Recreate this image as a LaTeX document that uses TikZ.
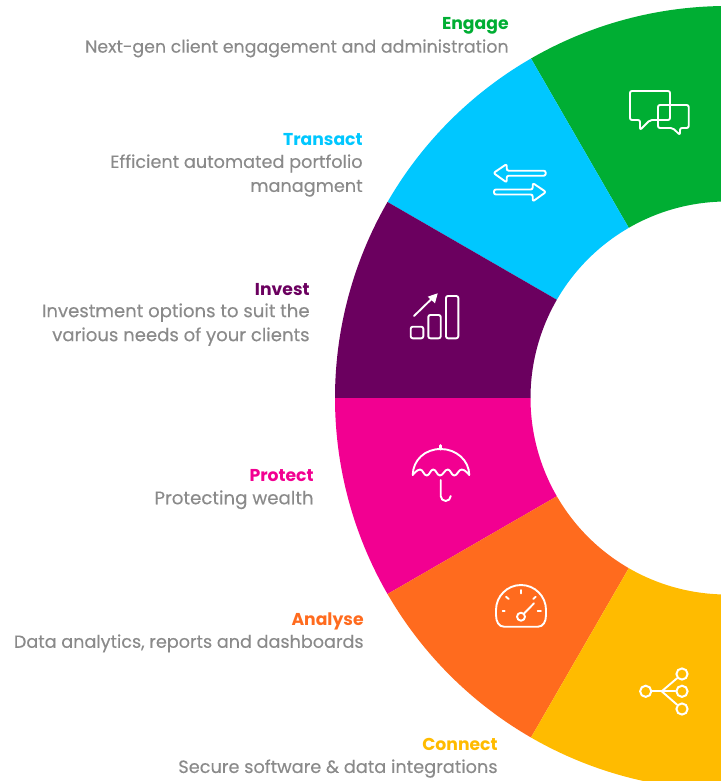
\documentclass[tikz,border=0pt]{standalone}
\usepackage{fontspec}
\setmainfont{Poppins}
\newfontfamily\bodyfont{Poppins}[FakeBold=0.25]
\definecolor{engagegreen}{RGB}{0, 174, 51}
\definecolor{transactblue}{RGB}{0, 199, 255}
\definecolor{investpurple}{RGB}{107, 0, 95}
\definecolor{protectpink}{RGB}{242, 0, 145}
\definecolor{analyseorange}{RGB}{255, 107, 30}
\definecolor{connectyellow}{RGB}{255, 187, 0}
\definecolor{bodygrey}{RGB}{138, 138, 138}
\tikzset{
  headtext/.style={anchor=base east, inner sep=0pt, font=\fontsize{8.6}{11}\selectfont\bfseries},
  bodytext/.style={anchor=north east, inner sep=0pt, align=right, text=bodygrey, font=\fontsize{#1}{12}\selectfont\bodyfont},
  icon/.style={draw=white, line width=0.95pt, line join=round, line cap=round},
  netdot/.style={circle, draw=white, line width=1pt, minimum size=5.6pt, inner sep=0pt}
}
\begin{document}
\begin{tikzpicture}[x=0.5pt,y=-0.5pt]
  \clip (0,0) rectangle (721,781);
  % wheel
  \begin{scope}[shift={(727,398)}]
    \foreach \from/\to/\col in {-120/-60/engagegreen, -150/-120/transactblue, -180/-150/investpurple, 180/150/protectpink, 150/120/analyseorange, 120/60/connectyellow} {
      \fill[\col] (\from:392) arc (\from:\to:392) -- (\to:196.5) arc (\to:\from:196.5) -- cycle;
    }
  \end{scope}
  % labels
  \node[headtext, text=engagegreen] (engage) at (509,30) {Engage};
  \node[bodytext=8.7] (engagetxt) at (509,39) {Next-gen client engagement and administration};
  \node[headtext, text=transactblue] (transact) at (363,145) {Transact};
  \node[bodytext=8.84] (transacttxt) at (363,154) {Efficient automated portfolio\\managment};
  \node[headtext, text=investpurple] (invest) at (310,295) {Invest};
  \node[bodytext=9.04] (investtxt) at (310,303) {Investment options to suit the\\various needs of your clients};
  \node[headtext, text=protectpink] (protect) at (314,481) {Protect};
  \node[bodytext=9.1] (protecttxt) at (314,490) {Protecting wealth};
  \node[headtext, text=analyseorange] (analyse) at (364,625) {Analyse};
  \node[bodytext=8.8] (analysetxt) at (364,634) {Data analytics, reports and dashboards};
  \node[headtext, text=connectyellow] (connect) at (498,750) {Connect};
  \node[bodytext=8.87] (connecttxt) at (498,759) {Secure software \& data integrations};
  % chat
  \draw[icon, rounded corners=1] (640,130) -- (640,120) -- (630,120) -- (630,91) -- (670,91) -- (670,120) -- (650,120) -- cycle;
  \draw[icon, rounded corners=1] (680,135) -- (680,128) -- (688.7,128) -- (688.7,105) -- (658,105) -- (658,128) -- (672.7,128) -- cycle;
  % arrows
  \draw[icon, rounded corners=1] (493.5,173) -- (506.7,164) -- (506.7,170.7) -- (545.7,170.7) -- (545.7,175.7) -- (506.7,175.7) -- (506.7,182.5) -- cycle;
  \draw[icon, rounded corners=1] (546,192) -- (532.7,183) -- (532.7,189.5) -- (494,189.5) -- (494,194.5) -- (532.7,194.5) -- (532.7,201.5) -- cycle;
  % bars
  \draw[icon, rounded corners=1] (410.7,326.7) rectangle (423.3,338.3);
  \draw[icon, rounded corners=1] (428.3,315) rectangle (440.7,338.3);
  \draw[icon, rounded corners=1] (446,296) rectangle (458.3,338.3);
  \draw[icon] (414,316) -- (432,298.5);
  \fill[white] (437.7,293.3) -- (427.7,296.7) -- (435,303.3) -- cycle;
  % umbrella
  \draw[icon] (412.7,475) .. controls (413,460) and (425,449) .. (440.7,449) .. controls (456,449) and (469,460) .. (469.3,475);
  \draw[icon] plot[smooth, tension=0.8] coordinates {(412.7,475) (420,469.5) (426.7,475.5) (433.3,469.5) (440,475.5) (447.7,469.5) (454.3,475.5) (461.7,469.5) (469.3,475)};
  \draw[icon, line width=1.5pt] (440.7,449) -- (440.7,445.5);
  \draw[icon] (440.7,480) -- (440.7,496) arc (180:0:5);
  % gauge
  \draw[icon] (496,610) arc (-180:0:25) -- (546,615) .. controls (546,622) and (543,626.7) .. (538,626.7) -- (504,626.7) .. controls (499,626.7) and (496,622) .. (496,615) -- cycle;
  \draw[icon] (521,616.7) circle (4);
  \draw[icon] (523.8,613.8) -- (534,603.3);
  \draw[icon] (502.7,611.3) -- (504.7,611.3);
  \draw[icon] (506,596.7) -- (508.7,599);
  \draw[icon] (521,590) -- (521,593.3);
  \draw[icon] (535.7,596.7) -- (533.3,599);
  \draw[icon] (537.7,611.3) -- (541,611.3);
  % network
  \node[netdot] (netleft) at (645.7,691.3) {};
  \node[netdot] (nettop) at (682,674) {};
  \node[netdot] (netmid) at (682,691.3) {};
  \node[netdot] (netbot) at (682,709) {};
  \coordinate (nethub) at (661.7,691.3);
  \draw[icon] (netleft) -- (nethub);
  \draw[icon] (nethub) -- (nettop);
  \draw[icon] (nethub) -- (netmid);
  \draw[icon] (nethub) -- (netbot);
\end{tikzpicture}
\end{document}
